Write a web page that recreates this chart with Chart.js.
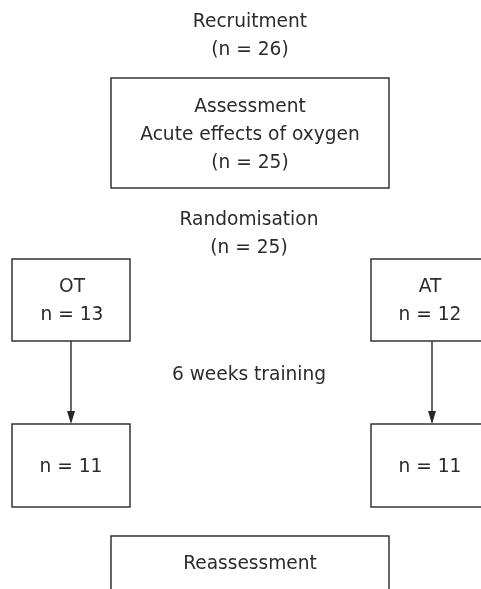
<!DOCTYPE html>
<html>
<head>
<meta charset="utf-8">
<script src="https://cdn.jsdelivr.net/npm/chart.js@4/dist/chart.umd.min.js"></script>
<style>
  html, body { margin: 0; padding: 0; background: #fff; }
  #wrap { width: 481px; height: 589px; position: relative; }
</style>
</head>
<body>
<div id="wrap"><canvas id="flow"></canvas></div>
<script>
// flowchart nodes: text lines, centre x, first line y
const nodeLines = [
  ["Recruitment", "(n = 26)"],
  ["Assessment", "Acute effects of oxygen", "(n = 25)"],
  ["Randomisation", "(n = 25)"],
  ["OT", "n = 13"],
  ["AT", "n = 12"],
  ["6 weeks training"],
  ["n = 11"],
  ["n = 11"],
  ["Reassessment"],
];
const nodeX = [250, 250, 249, 72, 430, 249, 71, 430, 250];
const nodeY = [22, 107, 220, 287, 287, 375, 467, 467, 564];

// boxes as [left, top, right, bottom] in chart units (null = no box)
const nodeBoxes = [
  null,
  [111, 78, 389, 188],
  null,
  [12, 259, 130, 341],
  [371, 259, 489, 341],
  null,
  [12, 424, 130, 507],
  [371, 424, 489, 507],
  [111, 536, 389, 620],
];

// arrows: [x, fromY, toY]
const arrows = [
  [71, 341, 424],
  [432, 341, 424],
];

const LINE_GAP = 28;

const flowPlugin = {
  id: "flow",
  afterDatasetsDraw(chart) {
    const ctx = chart.ctx;
    const sx = chart.scales.x;
    const sy = chart.scales.y;
    const px = (v) => sx.getPixelForValue(v);
    const py = (v) => sy.getPixelForValue(v);

    ctx.save();
    ctx.strokeStyle = "#262626";
    ctx.lineWidth = 1.4;
    nodeBoxes.forEach((b) => {
      if (!b) return;
      ctx.strokeRect(px(b[0]), py(b[1]), px(b[2]) - px(b[0]), py(b[3]) - py(b[1]));
    });

    arrows.forEach(([x, y1, y2]) => {
      const X = px(x);
      const Y1 = py(y1);
      const Y2 = py(y2);
      ctx.beginPath();
      ctx.moveTo(X, Y1);
      ctx.lineTo(X, Y2 - 10);
      ctx.stroke();
      ctx.fillStyle = "#262626";
      ctx.beginPath();
      ctx.moveTo(X - 4, Y2 - 13);
      ctx.lineTo(X + 4, Y2 - 13);
      ctx.lineTo(X, Y2);
      ctx.closePath();
      ctx.fill();
    });

    ctx.fillStyle = "#2b2b2b";
    ctx.font = "18.6px 'DejaVu Sans', sans-serif";
    ctx.textAlign = "center";
    ctx.textBaseline = "middle";
    nodeLines.forEach((lines, i) => {
      lines.forEach((t, j) => {
        ctx.fillText(t, px(nodeX[i]), py(nodeY[i] + j * LINE_GAP));
      });
    });
    ctx.restore();
  },
};

new Chart(document.getElementById("flow"), {
  type: "scatter",
  data: {
    datasets: [
      {
        data: nodeX.map((x, i) => ({ x: x, y: nodeY[i] })),
        pointRadius: 0,
      },
    ],
  },
  options: {
    responsive: true,
    maintainAspectRatio: false,
    animation: false,
    layout: { padding: 0 },
    plugins: { legend: { display: false }, tooltip: { enabled: false } },
    scales: {
      x: { type: "linear", min: 0, max: 481, display: false },
      y: { type: "linear", min: 0, max: 589, reverse: true, display: false },
    },
  },
  plugins: [flowPlugin],
});
</script>
</body>
</html>
